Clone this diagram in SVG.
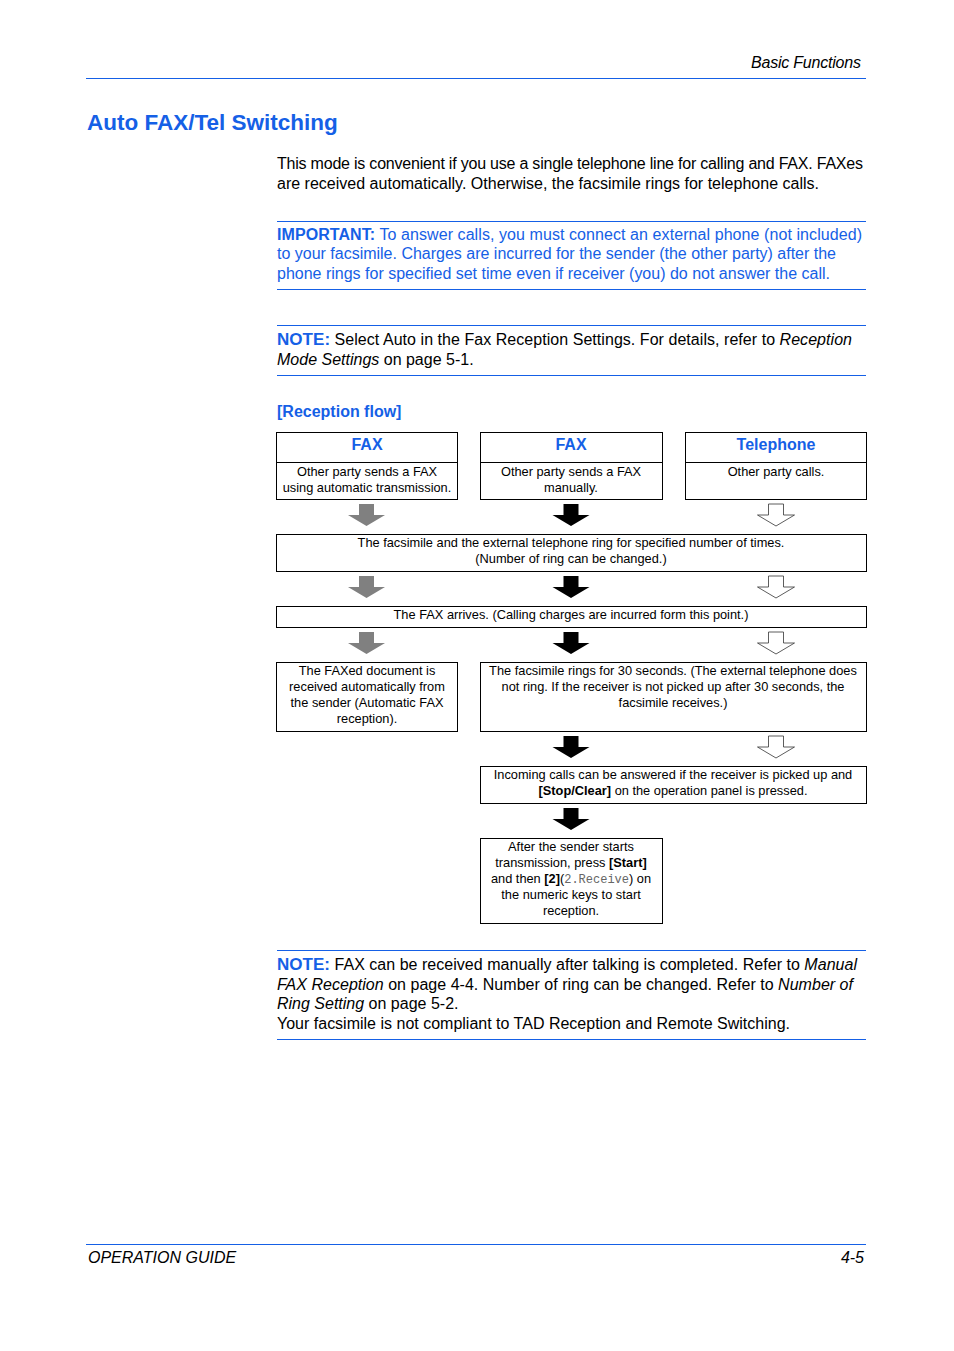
<svg xmlns="http://www.w3.org/2000/svg" xmlns:xlink="http://www.w3.org/1999/xlink" width="954" height="1351" viewBox="0 0 954 1351">
<style>
.t{font-family:"Liberation Sans",Arial,sans-serif;fill:#000}
.b16{font-size:16px}
.blue{fill:#1560e6}
.rule{stroke:#1560e6;stroke-width:1}
.box{fill:#fff;stroke:#000;stroke-width:1}
.bx{font-family:"Liberation Sans",Arial,sans-serif;font-size:12.8px;fill:#000;text-anchor:middle}
.hd{font-family:"Liberation Sans",Arial,sans-serif;font-size:16px;font-weight:bold;fill:#1560e6;text-anchor:middle}
.mono{font-family:"Liberation Mono","Courier New",monospace;fill:#666}
.ag{fill:#808080}
.ab{fill:#000}
.aw{fill:#fff;stroke:#333;stroke-width:0.8}
</style>
<defs>
<path id="arr" d="M-7.5,0 H7.5 V11 H18.5 L0,22 L-18.5,11 H-7.5 Z"/>
</defs>
<rect width="954" height="1351" fill="#fff"/>

<g id="header">
<text class="t" x="861" y="68" font-size="16" font-style="italic" text-anchor="end" textLength="110" lengthAdjust="spacing">Basic Functions</text>
<line class="rule" x1="86" y1="78.5" x2="866" y2="78.5"/>
</g>

<g id="title">
<text class="t blue" x="87" y="130" font-size="22.5" font-weight="bold">Auto FAX/Tel Switching</text>
</g>

<g id="intro">
<text class="t b16" x="277" y="169" textLength="586" lengthAdjust="spacing">This mode is convenient if you use a single telephone line for calling and FAX. FAXes</text>
<text class="t b16" x="277" y="189" textLength="542" lengthAdjust="spacing">are received automatically. Otherwise, the facsimile rings for telephone calls.</text>
</g>

<g id="important">
<line class="rule" x1="277" y1="221.5" x2="866" y2="221.5"/>
<text class="t b16 blue" x="277" y="240" textLength="585" lengthAdjust="spacing"><tspan font-weight="bold">IMPORTANT:</tspan> To answer calls, you must connect an external phone (not included)</text>
<text class="t b16 blue" x="277" y="259" textLength="559" lengthAdjust="spacing">to your facsimile. Charges are incurred for the sender (the other party) after the</text>
<text class="t b16 blue" x="277" y="279" textLength="553" lengthAdjust="spacing">phone rings for specified set time even if receiver (you) do not answer the call.</text>
<line class="rule" x1="277" y1="289.5" x2="866" y2="289.5"/>
</g>

<g id="note1">
<line class="rule" x1="277" y1="325.5" x2="866" y2="325.5"/>
<text class="t b16" x="277" y="345" textLength="575" lengthAdjust="spacing"><tspan class="blue" font-weight="bold" font-size="17">NOTE:</tspan> Select Auto in the Fax Reception Settings. For details, refer to <tspan font-style="italic">Reception</tspan></text>
<text class="t b16" x="277" y="365"><tspan font-style="italic">Mode Settings</tspan> on page 5-1.</text>
<line class="rule" x1="277" y1="375.5" x2="866" y2="375.5"/>
</g>

<g id="flow-label">
<text class="t blue" x="277" y="417" font-size="16" font-weight="bold">[Reception flow]</text>
</g>

<g id="node-fax-auto">
<rect class="box" x="276.5" y="432.5" width="181" height="67"/>
<line stroke="#000" x1="276.5" y1="462.5" x2="457.5" y2="462.5"/>
<text class="hd" x="367" y="450">FAX</text>
<text class="bx" x="367" y="475.5">Other party sends a FAX</text>
<text class="bx" x="367" y="491.5">using automatic transmission.</text>
</g>

<g id="node-fax-manual">
<rect class="box" x="480.5" y="432.5" width="182" height="67"/>
<line stroke="#000" x1="480.5" y1="462.5" x2="662.5" y2="462.5"/>
<text class="hd" x="571" y="450">FAX</text>
<text class="bx" x="571" y="475.5">Other party sends a FAX</text>
<text class="bx" x="571" y="491.5">manually.</text>
</g>

<g id="node-telephone">
<rect class="box" x="685.5" y="432.5" width="181" height="67"/>
<line stroke="#000" x1="685.5" y1="462.5" x2="866.5" y2="462.5"/>
<text class="hd" x="776" y="450">Telephone</text>
<text class="bx" x="776" y="475.5">Other party calls.</text>
</g>

<g id="node-ring">
<rect class="box" x="276.5" y="534.5" width="590" height="37"/>
<text class="bx" x="571" y="546.5">The facsimile and the external telephone ring for specified number of times.</text>
<text class="bx" x="571" y="562.5">(Number of ring can be changed.)</text>
</g>

<g id="node-arrives">
<rect class="box" x="276.5" y="606.5" width="590" height="21"/>
<text class="bx" x="571" y="618.5">The FAX arrives. (Calling charges are incurred form this point.)</text>
</g>

<g id="node-faxed">
<rect class="box" x="276.5" y="662.5" width="181" height="69"/>
<text class="bx" x="367" y="674.5">The FAXed document is</text>
<text class="bx" x="367" y="690.5">received automatically from</text>
<text class="bx" x="367" y="706.5">the sender (Automatic FAX</text>
<text class="bx" x="367" y="722.5">reception).</text>
</g>

<g id="node-rings30">
<rect class="box" x="480.5" y="662.5" width="386" height="69"/>
<text class="bx" x="673" y="674.5">The facsimile rings for 30 seconds. (The external telephone does</text>
<text class="bx" x="673" y="690.5">not ring. If the receiver is not picked up after 30 seconds, the</text>
<text class="bx" x="673" y="706.5">facsimile receives.)</text>
</g>

<g id="node-incoming">
<rect class="box" x="480.5" y="766.5" width="386" height="37"/>
<text class="bx" x="673" y="778.5">Incoming calls can be answered if the receiver is picked up and</text>
<text class="bx" x="673" y="794.5"><tspan font-weight="bold">[Stop/Clear]</tspan> on the operation panel is pressed.</text>
</g>

<g id="node-after">
<rect class="box" x="480.5" y="838.5" width="182" height="85"/>
<text class="bx" x="571" y="850.5">After the sender starts</text>
<text class="bx" x="571" y="866.5">transmission, press <tspan font-weight="bold">[Start]</tspan></text>
<text class="bx" x="571" y="882.5">and then <tspan font-weight="bold">[2]</tspan>(<tspan class="mono" font-size="12">2.Receive</tspan>) on</text>
<text class="bx" x="571" y="898.5">the numeric keys to start</text>
<text class="bx" x="571" y="914.5">reception.</text>
</g>

<g id="connectors">
<use xlink:href="#arr" class="ag" x="366.5" y="504"/>
<use xlink:href="#arr" class="ab" x="571" y="504"/>
<use xlink:href="#arr" class="aw" x="776" y="504"/>
<use xlink:href="#arr" class="ag" x="366.5" y="576"/>
<use xlink:href="#arr" class="ab" x="571" y="576"/>
<use xlink:href="#arr" class="aw" x="776" y="576"/>
<use xlink:href="#arr" class="ag" x="366.5" y="632"/>
<use xlink:href="#arr" class="ab" x="571" y="632"/>
<use xlink:href="#arr" class="aw" x="776" y="632"/>
<use xlink:href="#arr" class="ab" x="571" y="736"/>
<use xlink:href="#arr" class="aw" x="776" y="736"/>
<use xlink:href="#arr" class="ab" x="571" y="808"/>
</g>

<g id="note2">
<line class="rule" x1="277" y1="950.5" x2="866" y2="950.5"/>
<text class="t b16" x="277" y="970" textLength="580" lengthAdjust="spacing"><tspan class="blue" font-weight="bold" font-size="17">NOTE:</tspan> FAX can be received manually after talking is completed. Refer to <tspan font-style="italic">Manual</tspan></text>
<text class="t b16" x="277" y="990" textLength="576" lengthAdjust="spacing"><tspan font-style="italic">FAX Reception</tspan> on page 4-4. Number of ring can be changed. Refer to <tspan font-style="italic">Number of</tspan></text>
<text class="t b16" x="277" y="1009"><tspan font-style="italic">Ring Setting</tspan> on page 5-2.</text>
<text class="t b16" x="277" y="1029" textLength="513" lengthAdjust="spacing">Your facsimile is not compliant to TAD Reception and Remote Switching.</text>
<line class="rule" x1="277" y1="1039.5" x2="866" y2="1039.5"/>
</g>

<g id="footer">
<line class="rule" x1="86" y1="1244.5" x2="866" y2="1244.5"/>
<text class="t" x="88" y="1263" font-size="16" font-style="italic">OPERATION GUIDE</text>
<text class="t" x="864" y="1263" font-size="16" font-style="italic" text-anchor="end">4-5</text>
</g>
</svg>
